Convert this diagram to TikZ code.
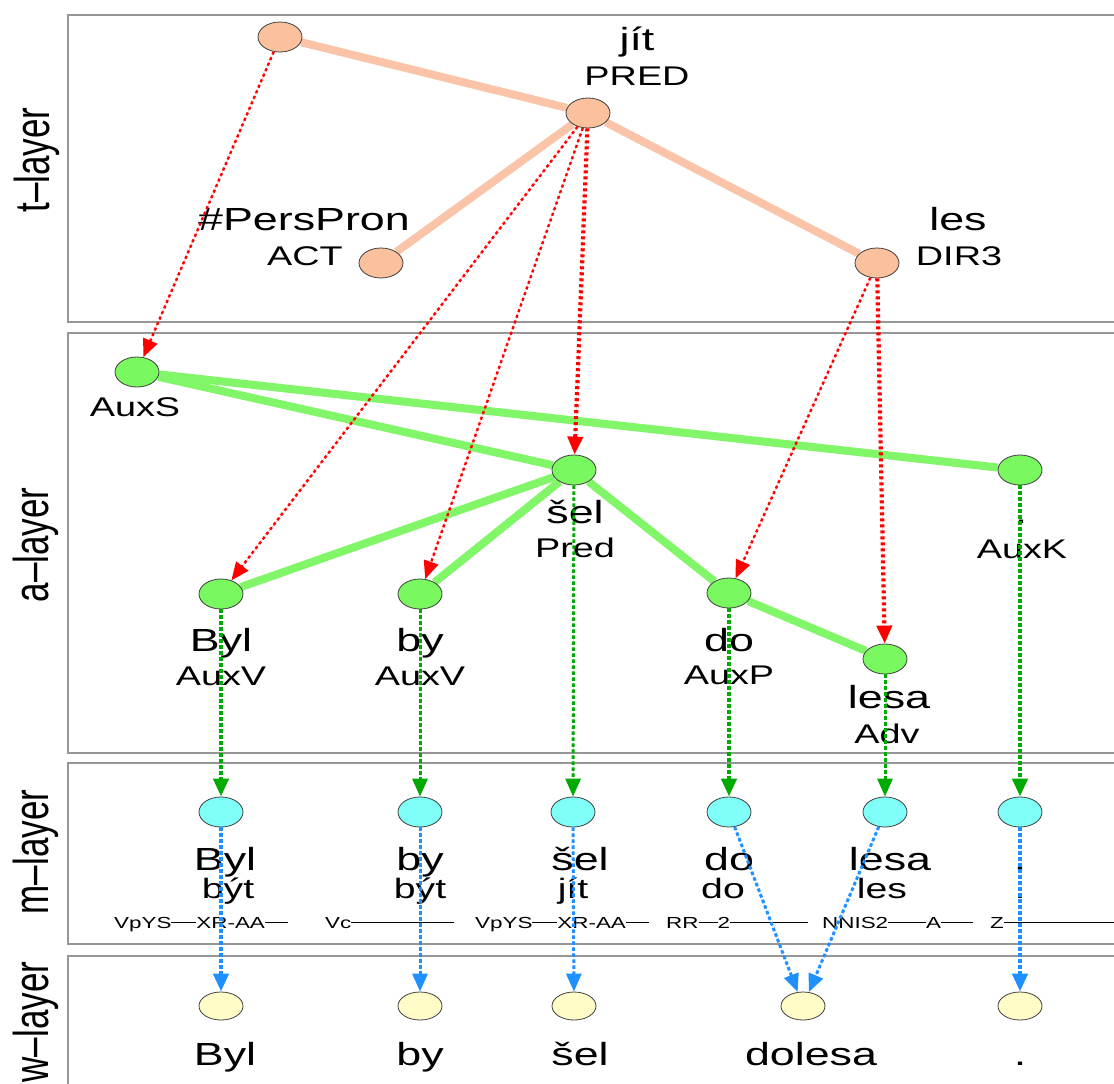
\documentclass[tikz,border=0pt]{standalone}
\usepackage{fontspec}
\setmainfont{Liberation Sans}[FakeStretch=1.4]
\newfontfamily\layerfont{Liberation Sans}
\usetikzlibrary{shapes.geometric,arrows.meta}
\definecolor{tfill}{RGB}{251,192,156}
\definecolor{tline}{RGB}{250,196,168}
\definecolor{afill}{RGB}{122,248,96}
\definecolor{aline}{RGB}{128,246,104}
\definecolor{mfill}{RGB}{128,255,248}
\definecolor{wfill}{RGB}{255,252,200}
\definecolor{refred}{RGB}{255,0,0}
\definecolor{refgreen}{RGB}{0,170,0}
\definecolor{refblue}{RGB}{30,144,255}
\definecolor{boxgray}{RGB}{150,150,150}
\newcommand\tagrule[1]{\rule[5pt]{#1pt}{1.4pt}}
\pgfdeclarelayer{bg}
\pgfsetlayers{bg,main}
\tikzset{
  x=1pt, y=-1pt,
  layerbox/.style={draw=boxgray, line width=1.5pt},
  layerlabel/.style={rotate=90, inner sep=0},
  nodebase/.style={ellipse, draw=black!75, line width=0.8pt, minimum width=44pt, minimum height=30pt, inner sep=0},
  tnode/.style={nodebase, fill=tfill},
  anode/.style={nodebase, fill=afill},
  mnode/.style={nodebase, fill=mfill},
  wnode/.style={nodebase, fill=wfill, minimum height=28pt},
  form/.style={font=\fontsize{32}{32}\selectfont, anchor=base, inner sep=0},
  func/.style={font=\fontsize{27}{27}\selectfont, anchor=base, inner sep=0},
  lemma/.style={font=\fontsize{28}{28}\selectfont, anchor=base, inner sep=0},
  mtag/.style={font=\fontsize{16}{16}\selectfont, anchor=base west, inner sep=0},
  tedge/.style={draw=tline, line width=8pt},
  aedge/.style={draw=aline, line width=8pt},
  tip/.style={-{Triangle[length=18pt,width=15pt]}},
  tref/.style={tip, draw=refred, fill=refred, line width=2.4pt, dash pattern=on 3pt off 3pt},
  arefl/.style={tip, draw=refgreen, fill=refgreen, line width=3pt, dash pattern=on 3.5pt off 2.5pt},
  mrefl/.style={tip, draw=refblue, fill=refblue, line width=3pt, dash pattern=on 3.5pt off 2.5pt},
  heavy/.style={line width=4.2pt},
}
\begin{document}
\begin{tikzpicture}
\useasboundingbox (0,0) rectangle (1114,1084);

% layer frames and their titles
\begin{pgfonlayer}{bg}
\fill[white] (0,0) rectangle (1114,1084);
\draw[layerbox] (1130,15) -- (68,15) -- (68,322) -- (1130,322);
\draw[layerbox] (1130,333) -- (68,333) -- (68,753) -- (1130,753);
\draw[layerbox] (1130,763) -- (68,763) -- (68,944) -- (1130,944);
\draw[layerbox] (1130,956) -- (68,956) -- (68,1100);
\end{pgfonlayer}
\node[layerlabel] (lt) at (37,160) {\scalebox{1}[1.4]{\layerfont\fontsize{35}{35}\selectfont t–layer}};
\node[layerlabel] (la) at (36,545) {\scalebox{1}[1.4]{\layerfont\fontsize{35}{35}\selectfont a–layer}};
\node[layerlabel] (lm) at (36,852) {\scalebox{1}[1.4]{\layerfont\fontsize{35}{35}\selectfont m–layer}};
\node[layerlabel] (lw) at (36,1022) {\scalebox{1}[1.4]{\layerfont\fontsize{35}{35}\selectfont w–layer}};

% tectogrammatical tree
\node[tnode] (tRoot) at (280,37) {};
\node[tnode] (tJit) at (588,113) {};
\node[tnode] (tPers) at (381,263) {};
\node[tnode] (tLes) at (877,263) {};
\node[form] (tJitF) at (637,50) {jít};
\node[func] (tJitR) at (637,85) {PRED};
\node[form] (tPersF) at (304,230) {\#PersPron};
\node[func] (tPersR) at (305,265) {ACT};
\node[form] (tLesF) at (958,230) {les};
\node[func] (tLesR) at (959,265) {DIR3};

% analytical tree
\node[anode] (aS) at (137,372) {};
\node[anode] (aSel) at (574,470) {};
\node[anode] (aK) at (1020,470) {};
\node[anode] (aByl) at (221,594) {};
\node[anode] (aBy) at (420,594) {};
\node[anode] (aDo) at (729,593) {};
\node[anode] (aLesa) at (885,659) {};
\node[func] (aSR) at (135,416) {AuxS};
\node[form] (aSelF) at (575,523) {šel};
\node[func] (aSelR) at (575,557) {Pred};
\node[form] (aKF) at (1021,523) {.};
\node[func] (aKR) at (1022,558) {AuxK};
\node[form] (aBylF) at (221,651) {Byl};
\node[func] (aBylR) at (221,685) {AuxV};
\node[form] (aByF) at (420,651) {by};
\node[func] (aByR) at (420,685) {AuxV};
\node[form] (aDoF) at (729,651) {do};
\node[func] (aDoR) at (729,684) {AuxP};
\node[form] (aLesaF) at (889,708) {lesa};
\node[func] (aLesaR) at (887,743) {Adv};

% morphological layer
\node[mnode] (mByl) at (221,812) {};
\node[mnode] (mBy) at (420,812) {};
\node[mnode] (mSel) at (573,812) {};
\node[mnode] (mDo) at (729,812) {};
\node[mnode] (mLesa) at (885,812) {};
\node[mnode] (mK) at (1020,812) {};
\node[form] (mBylF) at (225,870) {Byl};
\node[lemma] (mBylL) at (228,898) {být};
\node[form] (mByF) at (420,870) {by};
\node[lemma] (mByL) at (420,898) {být};
\node[form] (mSelF) at (580,870) {šel};
\node[lemma] (mSelL) at (573,898) {jít};
\node[form] (mDoF) at (729,870) {do};
\node[lemma] (mDoL) at (723,898) {do};
\node[form] (mLesaF) at (890,870) {lesa};
\node[lemma] (mLesaL) at (882,898) {les};
\node[form] (mKF) at (1020,870) {.};
\node[lemma] (mKL) at (1020,898) {.};
\node[mtag] (mBylT) at (114,928) {VpYS\tagrule{25}XR-AA\tagrule{23}};
\node[mtag] (mByT) at (325,928) {Vc\tagrule{103}};
\node[mtag] (mSelT) at (475,928) {VpYS\tagrule{25}XR-AA\tagrule{23}};
\node[mtag] (mDoT) at (666,928) {RR\tagrule{19}2\tagrule{78}};
\node[mtag] (mLesaT) at (822,928) {NNIS2\tagrule{38}A\tagrule{32}};
\node[mtag] (mKT) at (990,928) {Z\tagrule{124}};

% word layer
\node[wnode] (wByl) at (221,1006) {};
\node[wnode] (wBy) at (420,1006) {};
\node[wnode] (wSel) at (574,1006) {};
\node[wnode] (wDolesa) at (803,1006) {};
\node[wnode] (wK) at (1020,1006) {};
\node[form] (wBylF) at (225,1065) {Byl};
\node[form] (wByF) at (420,1065) {by};
\node[form] (wSelF) at (580,1065) {šel};
\node[form] (wDolesaF) at (811,1065) {dolesa};
\node[form] (wKF) at (1020,1065) {.};

% tree edges
\begin{pgfonlayer}{bg}
\draw[tedge] (tRoot) -- (tJit);
\draw[tedge] (tJit) -- (tPers);
\draw[tedge] (tJit) -- (tLes);
\draw[aedge] (aS) -- (aSel);
\draw[aedge] (aS) -- (aK);
\draw[aedge] (aSel) -- (aByl);
\draw[aedge] (aSel) -- (aBy);
\draw[aedge] (aSel) -- (aDo);
\draw[aedge] (aDo) -- (aLesa);
\end{pgfonlayer}

% links between layers
\draw[tref] (tRoot) -- (aS);
\draw[tref] (tJit) -- (aByl);
\draw[tref] (tJit) -- (aBy);
\draw[tref, heavy] (tJit) -- (aSel);
\draw[tref] (tLes) -- (aDo);
\draw[tref, heavy] (tLes) -- (aLesa);

\draw[arefl, heavy] (aByl) -- (mByl);
\draw[arefl] (aBy) -- (mBy);
\draw[arefl] (aSel) -- (mSel);
\draw[arefl, heavy] (aDo) -- (mDo);
\draw[arefl] (aLesa) -- (mLesa);
\draw[arefl, heavy] (aK) -- (mK);

\draw[mrefl, heavy] (mByl) -- (wByl);
\draw[mrefl] (mBy) -- (wBy);
\draw[mrefl] (mSel) -- (wSel);
\draw[mrefl] (mDo) -- (wDolesa);
\draw[mrefl] (mLesa) -- (wDolesa);
\draw[mrefl, heavy] (mK) -- (wK);
\end{tikzpicture}
\end{document}
